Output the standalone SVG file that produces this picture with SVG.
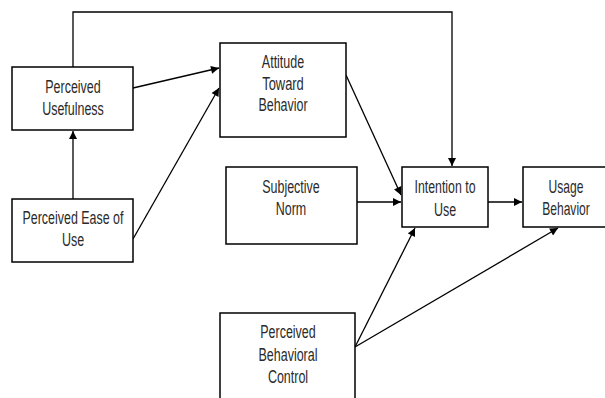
<svg xmlns="http://www.w3.org/2000/svg" width="605" height="398" viewBox="0 0 605 398">
<style>
.box{fill:#fff;stroke:#000;stroke-width:1.5}
.t{font-family:"Liberation Sans",Arial,sans-serif;font-size:17.5px;fill:#2a2a2a;text-anchor:middle}
.c{fill:none;stroke:#000;stroke-width:1.3}
</style>
<defs>
<marker id="ah" viewBox="0 0 10 10" refX="10" refY="5" markerWidth="9" markerHeight="8" markerUnits="userSpaceOnUse" orient="auto">
<path d="M0,0 L10,5 L0,10 z" fill="#000"/>
</marker>
</defs>
<rect width="605" height="398" fill="#fff"/>
<g id="connectors">
<path class="c" d="M73,67 V12 H452 V166" marker-end="url(#ah)"/>
<path class="c" d="M73,199 V131" marker-end="url(#ah)"/>
<path class="c" d="M133,88 L219,68" marker-end="url(#ah)"/>
<path class="c" d="M133,239 L219,88" marker-end="url(#ah)"/>
<path class="c" d="M346,75 L401,195" marker-end="url(#ah)"/>
<path class="c" d="M357,202 L401,202" marker-end="url(#ah)"/>
<path class="c" d="M488,202 L522,202" marker-end="url(#ah)"/>
<path class="c" d="M355,347 L415,228" marker-end="url(#ah)"/>
<path class="c" d="M355,347 L558,228" marker-end="url(#ah)"/>
</g>
<g id="pu">
<rect class="box" x="12" y="67" width="121" height="63"/>
<text class="t" x="73" y="93" textLength="55.5" lengthAdjust="spacingAndGlyphs">Perceived</text>
<text class="t" x="73" y="115" textLength="61.7" lengthAdjust="spacingAndGlyphs">Usefulness</text>
</g>
<g id="peou">
<rect class="box" x="12" y="199" width="121" height="63"/>
<text class="t" x="73" y="224" textLength="101" lengthAdjust="spacingAndGlyphs">Perceived Ease of</text>
<text class="t" x="73" y="246" textLength="22.2" lengthAdjust="spacingAndGlyphs">Use</text>
</g>
<g id="attitude">
<rect class="box" x="220" y="43" width="126" height="94"/>
<text class="t" x="283" y="68" textLength="42.3" lengthAdjust="spacingAndGlyphs">Attitude</text>
<text class="t" x="283" y="90" textLength="41.6" lengthAdjust="spacingAndGlyphs">Toward</text>
<text class="t" x="283" y="111" textLength="49.2" lengthAdjust="spacingAndGlyphs">Behavior</text>
</g>
<g id="norm">
<rect class="box" x="226" y="167" width="131" height="77"/>
<text class="t" x="291" y="193" textLength="57.6" lengthAdjust="spacingAndGlyphs">Subjective</text>
<text class="t" x="291" y="215" textLength="30.5" lengthAdjust="spacingAndGlyphs">Norm</text>
</g>
<g id="intention">
<rect class="box" x="402" y="167" width="86" height="60"/>
<text class="t" x="445" y="193" textLength="61" lengthAdjust="spacingAndGlyphs">Intention to</text>
<text class="t" x="445" y="216" textLength="22.2" lengthAdjust="spacingAndGlyphs">Use</text>
</g>
<g id="usage">
<path class="box" d="M605,167 H523 V227 H605"/>
<text class="t" transform="translate(566,193) scale(0.69,1)">Usage</text>
<text class="t" transform="translate(566,215) scale(0.69,1)">Behavior</text>
</g>
<g id="pbc">
<path class="box" d="M220,398 V313 H355 V398"/>
<text class="t" x="288" y="338" textLength="55.5" lengthAdjust="spacingAndGlyphs">Perceived</text>
<text class="t" x="288" y="361" textLength="59" lengthAdjust="spacingAndGlyphs">Behavioral</text>
<text class="t" x="288" y="383" textLength="40.2" lengthAdjust="spacingAndGlyphs">Control</text>
</g>
</svg>
